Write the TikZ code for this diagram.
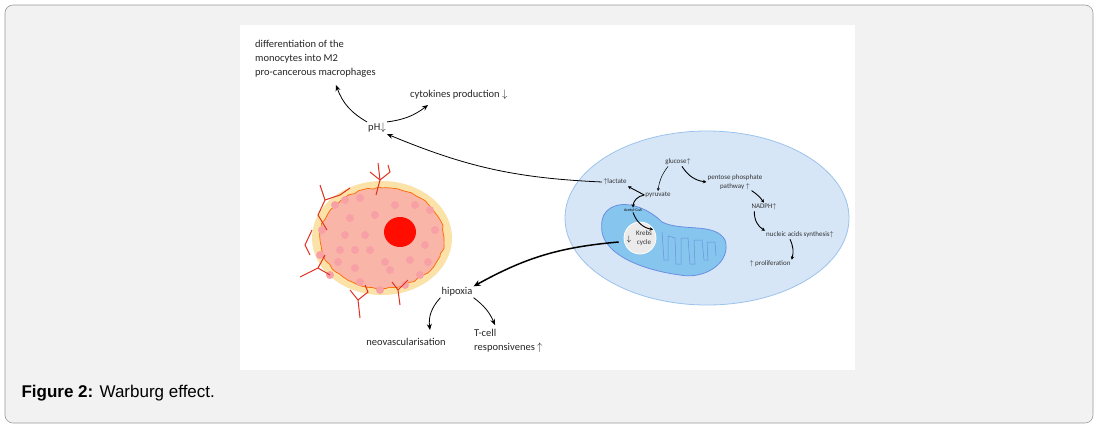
\documentclass[tikz,border=0pt]{standalone}
\usepackage{fontspec}
\setmainfont{Carlito}
\newfontfamily\capfont{Liberation Sans}
\usetikzlibrary{arrows.meta,decorations.pathmorphing}
\definecolor{cellblue}{HTML}{D6E6F7}
\definecolor{cellline}{HTML}{9CC3EC}
\definecolor{mito}{HTML}{86C5EE}
\definecolor{mitoline}{HTML}{6A8FE0}
\definecolor{tyellow}{HTML}{FBE2A8}
\definecolor{tpink}{HTML}{F9B6A8}
\definecolor{tdot}{HTML}{F7A1A6}
\definecolor{vessel}{HTML}{E0311E}
\begin{document}
\begin{tikzpicture}[x=1pt,y=-1pt,
  lbl/.style={font=\fontsize{10.5}{14}\selectfont,inner sep=1pt,text=black!85},
  sml/.style={font=\fontsize{7}{8.5}\selectfont,inner sep=1pt,text=black!80},
  arr/.style={-{Stealth[length=6pt,width=5pt]},line width=0.8pt},
  thk/.style={-{Stealth[length=7pt,width=6pt]},line width=1.5pt},
  ves/.style={vessel,line width=1pt}]
\useasboundingbox (0,0) rectangle (1099,429);
\fill[black!5,draw=black!40,rounded corners=8pt,line width=0.6pt] (5,5) rectangle (1093,423);
\fill[white] (240,25) rectangle (855,370);
\node[anchor=west,font=\capfont\fontsize{17}{20}\selectfont] (cap) at (18,393) {\textbf{Figure 2:} Warburg effect.};

% tumor cell
\fill[tyellow] (382,238) ellipse [x radius=70,y radius=57];
\fill[tpink,draw=orange!80!red,line width=0.7pt,decorate,decoration={random steps,segment length=5pt,amplitude=1pt}]
  (382,238) ellipse [x radius=62,y radius=50];
\foreach \p in {(335,205),(350,218),(360,198),(322,230),(340,250),(355,268),(370,250),(375,215),(330,275),(390,270),(410,260),(425,245),(420,275),(430,210),(395,205),(345,235),(365,235),(320,255),(405,285),(380,290),(435,230),(345,200),(385,262),(360,282),(338,262),(415,205),(428,262),(355,250)}
  \fill[tdot] \p circle (4);
\fill[red!90!orange] (400,232) circle [x radius=16,y radius=15];
% vessels
\draw[ves] (320,185) -- (325,200) -- (318,215) -- (327,230);
\draw[ves] (325,200) -- (340,195) -- (350,188);
\draw[ves] (378,163) -- (380,180) -- (376,195);
\draw[ves] (380,180) -- (390,172) -- (388,165);
\draw[ves] (380,180) -- (370,172);
\draw[ves] (300,277) -- (318,268) -- (325,255);
\draw[ves] (318,268) -- (330,275);
\draw[ves] (360,318) -- (358,300) -- (350,290);
\draw[ves] (358,300) -- (368,292) -- (365,285);
\draw[ves] (400,305) -- (398,290) -- (392,282);
\draw[ves] (398,290) -- (408,280);
\draw[ves] (312,230) -- (305,245) -- (310,255);

% big cell
\fill[cellblue,draw=cellline,line width=0.8pt] (707,218) ellipse [x radius=142,y radius=87];
% mitochondrion
\draw[fill=mito,draw=mitoline,line width=0.8pt]
  (606,212) .. controls (618,198) and (645,205) .. (662,222)
  .. controls (682,232) and (715,222) .. (725,240)
  .. controls (732,262) and (705,280) .. (680,275)
  .. controls (642,270) and (606,255) .. (602,232)
  .. controls (601,223) and (602,216) .. (606,212) -- cycle;
\draw[mitoline,line width=0.5pt] (662,232) -- (664,260) -- (668,260) -- (668,236) -- (675,238) -- (676,264) -- (681,264) -- (681,238) -- (688,238) -- (690,264) -- (695,264) -- (694,240) -- (702,240) -- (704,260) -- (708,260) -- (707,242) -- (715,242) -- (716,256);
\fill[black!8,draw=white,line width=0.8pt] (640,238) circle (16);
\node[sml,align=center] (krebs) at (644,238) {Krebs\\cycle};
\node[font=\fontsize{8}{9}\selectfont,inner sep=0pt] (kdown) at (629,239) {$\downarrow$};

\node[sml] (glucose) at (678,162) {glucose$\uparrow$};
\node[sml] (lactate) at (615,182) {$\uparrow$lactate};
\node[sml] (pyruvate) at (658,195) {pyruvate};
\node[font=\fontsize{4}{5}\selectfont,inner sep=0.5pt] (acoa) at (633,210) {Acetyl-CoA};
\node[sml,align=center] (ppp) at (735,182) {pentose phosphate\\pathway $\uparrow$};
\node[sml] (nadph) at (764,207) {NADPH$\uparrow$};
\node[sml] (nas) at (800,235) {nucleic acids synthesis$\uparrow$};
\node[sml] (prolif) at (770,264) {$\uparrow$ proliferation};

\tikzset{sa/.style={-{Stealth[length=3pt,width=3pt]},line width=0.5pt},
  sb/.style={-{Stealth[length=3.5pt,width=3.5pt]},line width=0.9pt}}
\draw[sa] (glucose.south west) ++(4,0) to[bend right=15] (pyruvate.north);
\draw[sb] (glucose.south east) ++(-10,0) to[bend right=25] (ppp.west);
\draw[sb] (pyruvate.west) -- (lactate.south east);
\draw[sb] (pyruvate.west) to[bend right=40] (acoa.north);
\draw[sb] (acoa.south) to[bend right=30] (krebs.north east);
\draw[sb] (ppp.south east) ++(-12,0) to[bend left=10] (nadph.north);
\draw[sb] (nadph.south west) ++(4,0) to[bend right=30] (nas.north west);
\draw[sb] (nas.south) ++(-10,0) to[bend left=20] (prolif.north east);

% outside texts
\node[lbl,anchor=north west,align=left] (diff) at (254,39) {differentiation of the\\monocytes into M2\\pro-cancerous macrophages};
\node[lbl,anchor=west] (cyto) at (409,95) {cytokines production $\downarrow$};
\node[lbl] (ph) at (377,128) {pH$\downarrow$};
\node[lbl] (hip) at (457,292) {hipoxia};
\node[lbl] (neo) at (406,342) {neovascularisation};
\node[lbl,align=left,anchor=north west] (tcell) at (473,328) {T-cell\\responsivenes $\uparrow$};

\draw[arr] (ph.north west) to[bend left=20] (336,85);
\draw[arr] (ph.north east) to[bend right=15] (428,105);
\draw[arr] (lactate.west) to[bend left=10] (ph.south east);
\draw[thk] (kdown.west) ++(-8,3) to[bend right=12] (hip.north east);
\draw[arr] (hip.south west) to[bend right=25] (430,330);
\draw[arr] (hip.south east) to[bend left=15] (495,325);
\end{tikzpicture}
\end{document}
